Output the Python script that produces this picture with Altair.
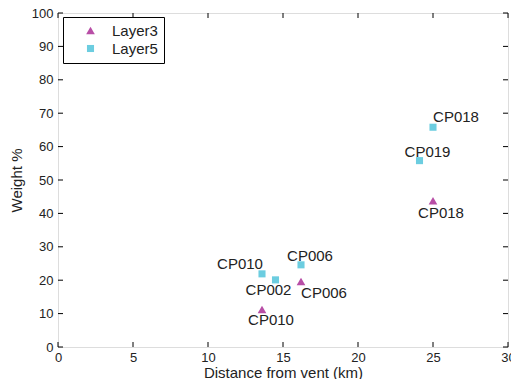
import altair as alt
import pandas as pd

# ---- data ----
layer3_names = ["CP010", "CP006", "CP018"]
layer3_dist = [13.6, 16.2, 25.0]
layer3_weight = [11.2, 19.6, 43.8]

layer5_names = ["CP010", "CP002", "CP006", "CP019", "CP018"]
layer5_dist = [13.6, 14.5, 16.2, 24.1, 25.0]
layer5_weight = [21.9, 20.1, 24.6, 55.8, 65.8]

series = ["Layer3", "Layer5"]
x_ticks = [0, 5, 10, 15, 20, 25, 30]
y_ticks = [0, 10, 20, 30, 40, 50, 60, 70, 80, 90, 100]

# ---- styles ----
C3 = "#b84ea6"
C5 = "#6ccde0"
W, H = 450, 334
FONT = "Liberation Sans"

rows = []
for n, x, y in zip(layer3_names, layer3_dist, layer3_weight):
    rows.append({"layer": "Layer3", "name": n, "x": x, "y": y})
for n, x, y in zip(layer5_names, layer5_dist, layer5_weight):
    rows.append({"layer": "Layer5", "name": n, "x": x, "y": y})
df = pd.DataFrame(rows)

xscale = alt.Scale(domain=[0, 30], nice=False, zero=False)
yscale = alt.Scale(domain=[0, 100], nice=False, zero=False)

xaxis = alt.Axis(values=x_ticks, tickCount=len(x_ticks), ticks=False, domain=False, grid=False,
                 labelFontSize=13, labelPadding=4, labelColor="#222",
                 labelOverlap=False, labelBound=False, labelFlush=False,
                 title="Distance from vent (km)", titleFontSize=15,
                 titleFontWeight="normal", titleBaseline="alphabetic", titleY=30,
                 titleColor="#222")
yaxis = alt.Axis(values=y_ticks, tickCount=len(y_ticks), ticks=False, domain=False, grid=False,
                 labelFontSize=13, labelPadding=5, labelColor="#222",
                 labelOverlap=False, labelBound=False, labelFlush=False,
                 title="Weight %", titleFontSize=15, titleFontWeight="normal",
                 titlePadding=7, titleColor="#222")

legend = alt.Legend(title=None, orient="none", legendX=5, legendY=4,
                    strokeColor="black", fillColor="white", padding=6,
                    labelFontSize=15, labelFont=FONT, labelColor="#222",
                    symbolSize=70, symbolOffset=14, labelOffset=14,
                    rowPadding=2, symbolStrokeWidth=0,
                    labelExpr="datum.label + '\u00a0\u00a0'")

X = alt.X("x:Q", scale=xscale, axis=xaxis)
Y = alt.Y("y:Q", scale=yscale, axis=yaxis)

points = alt.Chart(df).mark_point(filled=True, opacity=1).encode(
    x=X, y=Y,
    color=alt.Color("layer:N", scale=alt.Scale(domain=series, range=[C3, C5]), legend=legend),
    shape=alt.Shape("layer:N", scale=alt.Scale(domain=series, range=["triangle-up", "square"]), legend=legend),
    size=alt.Size("layer:N", scale=alt.Scale(domain=series, range=[75, 50]), legend=None),
)

# label placements (dx, dy in pixels) for each (layer, name)
placements = {
    ("Layer5", "CP018"): (23, -10),
    ("Layer5", "CP019"): (8, -9),
    ("Layer3", "CP018"): (8, 12),
    ("Layer5", "CP006"): (9, -9),
    ("Layer3", "CP006"): (23, 11),
    ("Layer5", "CP010"): (-22, -10),
    ("Layer5", "CP002"): (-7, 10),
    ("Layer3", "CP010"): (9, 10),
}
label_layers = []
for (lay, nm), (dx, dy) in placements.items():
    label_layers.append(
        alt.Chart(df).transform_filter(
            (alt.datum.layer == lay) & (alt.datum.name == nm)
        ).mark_text(fontSize=15, font=FONT, color="#222", dx=dx, dy=dy,
                    align="center", baseline="middle").encode(
            x=X, y=Y, text="name:N")
    )

xt = pd.DataFrame({"x": x_ticks})
yt = pd.DataFrame({"y": y_ticks})
tick_style = dict(color="black", strokeWidth=1)
xb = alt.Chart(xt).mark_rule(**tick_style).encode(x=X, y=alt.value(H), y2=alt.value(H - 5))
xtp = alt.Chart(xt).mark_rule(**tick_style).encode(x=X, y=alt.value(0), y2=alt.value(5))
yl = alt.Chart(yt).mark_rule(**tick_style).encode(y=Y, x=alt.value(0), x2=alt.value(5))
yr = alt.Chart(yt).mark_rule(**tick_style).encode(y=Y, x=alt.value(W), x2=alt.value(W - 5))

chart = alt.layer(points, *label_layers, xb, xtp, yl, yr).properties(
    width=W, height=H,
    autosize=alt.AutoSizeParams(type="none"),
    padding={"left": 58, "top": 13, "right": 3, "bottom": 32},
).configure_view(stroke="black", strokeWidth=1.2).configure_axis(
    labelOverlap=False, labelBound=False, labelFlush=False
).configure(
    font=FONT, background="white"
).resolve_scale(color="shared", shape="shared")

chart.save("out.html", embed_options={"renderer": "svg", "actions": False})
